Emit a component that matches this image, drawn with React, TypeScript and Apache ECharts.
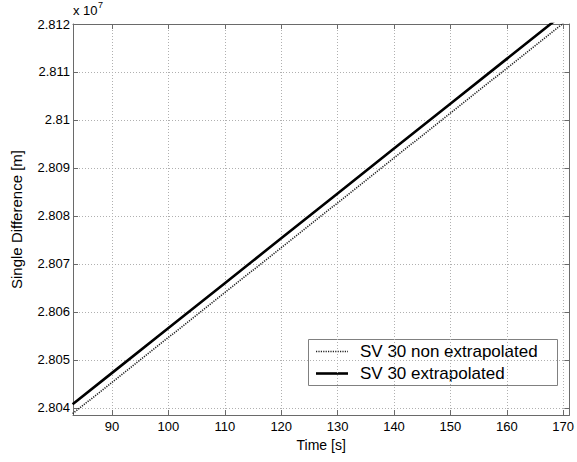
import React, { useEffect, useRef } from "react";
import * as echarts from "echarts";

// Time [s]
const times = [83, 90, 100, 110, 120, 130, 140, 150, 160, 170];
// Single difference, in units of 1e7 m
const nonExtrapolated = [2.803877, 2.804532, 2.805467, 2.806402, 2.807337, 2.808272, 2.809207, 2.810142, 2.811077, 2.812012];
const extrapolated = [2.804073, 2.804728, 2.805663, 2.806598, 2.807533, 2.808468, 2.809403, 2.810338, 2.811273, 2.812208];
const seriesNames = ["SV 30 non extrapolated", "SV 30 extrapolated"];

const X_MIN = 83.07;
const X_MAX = 171.1;
const Y_MIN = 2.80385;
const Y_MAX = 2.812;

const FONT = "Liberation Sans, Arial, Helvetica, sans-serif";
const AXIS_COLOR = "#6a6a6a";
const DOT_STYLE = { color: "#222", width: 1.6, type: [1.2, 1.2] as any };
const SOLID_STYLE = { color: "#000", width: 2.6, type: "solid" as any };

export default function App() {
  const ref = useRef<HTMLDivElement>(null);

  useEffect(() => {
    if (!ref.current) return;
    const chart = echarts.init(ref.current, undefined, { renderer: "svg" });

    const tickStyle = { show: true, inside: true, length: 5, lineStyle: { color: AXIS_COLOR, width: 1 } };
    const lineStyle = { show: true, lineStyle: { color: AXIS_COLOR, width: 1 } };
    const gridLine = { show: true, lineStyle: { color: "#b0b0b0", width: 1, type: [1, 2] as any } };

    const legendX = 308;
    const legendY = 339;
    const rows = [351.5, 373.5];

    const option: any = {
      animation: false,
      backgroundColor: "#ffffff",
      textStyle: { fontFamily: FONT },
      grid: { left: 73, right: 5, top: 24, bottom: 47, containLabel: false },
      xAxis: [
        {
          type: "value",
          min: X_MIN,
          max: X_MAX,
          splitNumber: 9,
          minInterval: 10,
          maxInterval: 10,
          position: "bottom",
          name: "Time [s]",
          nameLocation: "middle",
          nameGap: 23,
          nameTextStyle: { color: "#000", fontSize: 14, fontFamily: FONT },
          axisLine: lineStyle,
          axisTick: tickStyle,
          splitLine: gridLine,
          axisLabel: {
            color: "#000",
            fontSize: 13,
            fontFamily: FONT,
            margin: 5,
            showMinLabel: false,
            showMaxLabel: false,
          },
        },
        {
          type: "value",
          min: X_MIN,
          max: X_MAX,
          splitNumber: 9,
          minInterval: 10,
          maxInterval: 10,
          position: "top",
          axisLine: lineStyle,
          axisTick: tickStyle,
          splitLine: { show: false },
          axisLabel: { show: false },
        },
      ],
      yAxis: [
        {
          type: "value",
          min: Y_MIN,
          max: Y_MAX,
          splitNumber: 8,
          minInterval: 0.001,
          maxInterval: 0.001,
          position: "left",
          name: "Single Difference [m]",
          nameLocation: "middle",
          nameGap: 49,
          nameTextStyle: { color: "#000", fontSize: 15, fontFamily: FONT },
          axisLine: lineStyle,
          axisTick: tickStyle,
          splitLine: gridLine,
          axisLabel: {
            color: "#000",
            fontSize: 13,
            fontFamily: FONT,
            margin: 3,
            showMinLabel: false,
            formatter: (v: number) => String(parseFloat(v.toFixed(3))),
          },
        },
        {
          type: "value",
          min: Y_MIN,
          max: Y_MAX,
          splitNumber: 8,
          minInterval: 0.001,
          maxInterval: 0.001,
          position: "right",
          axisLine: lineStyle,
          axisTick: tickStyle,
          splitLine: { show: false },
          axisLabel: { show: false },
        },
      ],
      series: [
        {
          name: seriesNames[0],
          type: "line",
          xAxisIndex: 0,
          yAxisIndex: 0,
          showSymbol: false,
          symbol: "none",
          data: times.map((t, i) => [t, nonExtrapolated[i]]),
          lineStyle: DOT_STYLE,
          itemStyle: { color: "#222" },
          z: 3,
        },
        {
          name: seriesNames[1],
          type: "line",
          xAxisIndex: 0,
          yAxisIndex: 0,
          showSymbol: false,
          symbol: "none",
          data: times.map((t, i) => [t, extrapolated[i]]),
          lineStyle: SOLID_STYLE,
          itemStyle: { color: "#000" },
          z: 4,
        },
      ],
      graphic: [
        {
          type: "text",
          left: 73,
          top: 4,
          style: { text: "x 10", fill: "#000", font: `13px ${FONT}` },
        },
        {
          type: "text",
          left: 98,
          top: 0,
          style: { text: "7", fill: "#000", font: `9px ${FONT}` },
        },
        {
          type: "group",
          z: 100,
          children: [
            {
              type: "rect",
              shape: { x: legendX + 0.5, y: legendY + 0.5, width: 249, height: 46 },
              style: { fill: "#fff", stroke: "#808080", lineWidth: 1 },
            },
            {
              type: "line",
              shape: { x1: 316, y1: rows[0], x2: 348, y2: rows[0] },
              style: { stroke: DOT_STYLE.color, lineWidth: DOT_STYLE.width, lineDash: DOT_STYLE.type },
            },
            {
              type: "line",
              shape: { x1: 316, y1: rows[1], x2: 348, y2: rows[1] },
              style: { stroke: SOLID_STYLE.color, lineWidth: SOLID_STYLE.width },
            },
            {
              type: "text",
              x: 360,
              y: rows[0],
              style: {
                text: seriesNames[0],
                fill: "#000",
                font: `17px ${FONT}`,
                textVerticalAlign: "middle",
                verticalAlign: "middle",
              },
            },
            {
              type: "text",
              x: 360,
              y: rows[1],
              style: {
                text: seriesNames[1],
                fill: "#000",
                font: `17px ${FONT}`,
                textVerticalAlign: "middle",
                verticalAlign: "middle",
              },
            },
          ],
        },
      ],
    };

    chart.setOption(option);
    return () => chart.dispose();
  }, []);

  return (
    <div
      ref={ref}
      style={{ position: "absolute", left: 0, top: 0, width: 577, height: 462 }}
    />
  );
}
